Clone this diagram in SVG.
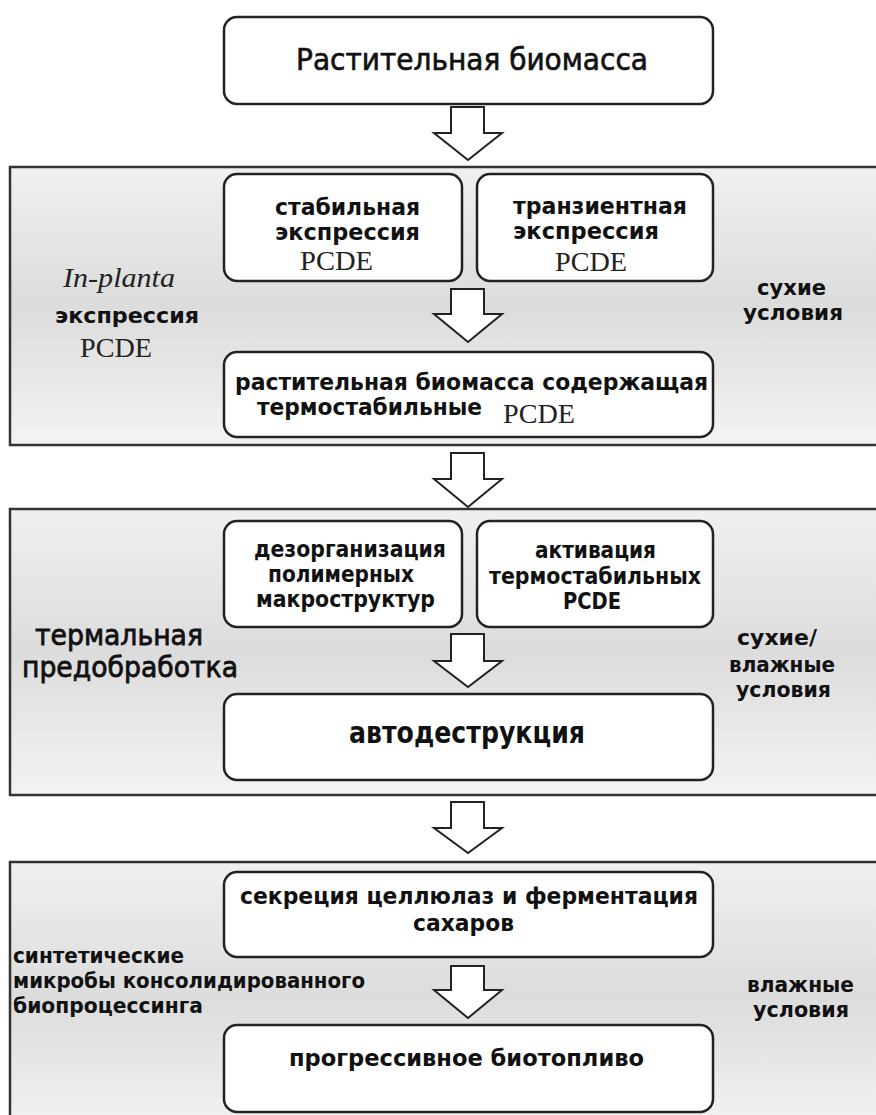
<svg xmlns="http://www.w3.org/2000/svg" width="876" height="1115" viewBox="0 0 876 1115">
<style>
.panel{stroke:#333;stroke-width:2.5;fill:url(#pg)}
.box{fill:#fff;stroke:#222;stroke-width:2.5}
.arr{fill:#fff;stroke:#222;stroke-width:2;stroke-linejoin:miter}
.bt{font-family:"DejaVu Sans Condensed","DejaVu Sans",sans-serif;font-weight:bold;font-size:23px;fill:#111}
.big{font-size:30px}
.med{font-weight:normal;stroke:#111;stroke-width:0.6}
.lbl{font-family:"DejaVu Sans","Liberation Sans",sans-serif;font-weight:bold;font-size:22px;fill:#111}
.lg{font-family:"DejaVu Sans","Liberation Sans",sans-serif;font-size:28px;fill:#111;stroke:#111;stroke-width:0.8}
.sf{font-family:"Liberation Serif","DejaVu Serif",serif;font-size:27px;fill:#222}
</style>
<defs>
<linearGradient id="pg" x1="0" y1="0" x2="0" y2="1">
<stop offset="0" stop-color="#f0f0f0"/>
<stop offset="0.5" stop-color="#dcdcdc"/>
<stop offset="1" stop-color="#f3f3f3"/>
</linearGradient>
</defs>

<g id="panel1"><rect class="panel" x="10" y="167" width="880" height="278"/></g>
<g id="panel2"><rect class="panel" x="10" y="509" width="880" height="286"/></g>
<g id="panel3"><rect class="panel" x="10" y="862" width="880" height="270"/></g>

<g id="connectors">
<polygon class="arr" points="451,107 484,107 484,133 502,133 468,160 434,133 451,133"/>
<polygon class="arr" points="451,289 484,289 484,314 502,314 468,342 434,314 451,314"/>
<polygon class="arr" points="451,453 484,453 484,479 502,479 468,507 434,479 451,479"/>
<polygon class="arr" points="451,634 484,634 484,661 502,661 468,687 434,661 451,661"/>
<polygon class="arr" points="451,802 484,802 484,828 502,828 468,853 434,828 451,828"/>
<polygon class="arr" points="451,966 484,966 484,990 502,990 468,1018 434,990 451,990"/>
</g>

<g id="n-biomass">
<rect class="box" x="224" y="17" width="489" height="87" rx="13"/>
<text class="bt big med" x="296" y="70" textLength="352" lengthAdjust="spacingAndGlyphs">Растительная биомасса</text>
</g>

<g id="n-stable">
<rect class="box" x="224" y="174" width="238" height="107" rx="13"/>
<text class="bt" x="275" y="215" textLength="145" lengthAdjust="spacingAndGlyphs">стабильная</text>
<text class="bt" x="275" y="240" textLength="145" lengthAdjust="spacingAndGlyphs">экспрессия</text>
<text class="sf" x="300" y="270" textLength="73" lengthAdjust="spacingAndGlyphs">PCDE</text>
</g>

<g id="n-transient">
<rect class="box" x="477" y="174" width="236" height="107" rx="13"/>
<text class="bt" x="513" y="214" textLength="174" lengthAdjust="spacingAndGlyphs">транзиентная</text>
<text class="bt" x="513" y="239" textLength="146" lengthAdjust="spacingAndGlyphs">экспрессия</text>
<text class="sf" x="555" y="271" textLength="72" lengthAdjust="spacingAndGlyphs">PCDE</text>
</g>

<g id="n-biomass-pcde">
<rect class="box" x="224" y="352" width="489" height="85" rx="13"/>
<text class="bt" x="235" y="390" textLength="473" lengthAdjust="spacingAndGlyphs">растительная биомасса содержащая</text>
<text class="bt" x="257" y="415" textLength="225" lengthAdjust="spacingAndGlyphs">термостабильные</text>
<text class="sf" x="503" y="423" textLength="72" lengthAdjust="spacingAndGlyphs">PCDE</text>
</g>

<g id="l-inplanta">
<text class="sf" x="63" y="287" font-style="italic" textLength="112" lengthAdjust="spacingAndGlyphs">In-planta</text>
<text class="lbl" x="55" y="323" textLength="144" lengthAdjust="spacingAndGlyphs">экспрессия</text>
<text class="sf" x="80" y="357" textLength="72" lengthAdjust="spacingAndGlyphs">PCDE</text>
</g>
<g id="r-dry">
<text class="lbl" x="757" y="295" textLength="69" lengthAdjust="spacingAndGlyphs">сухие</text>
<text class="lbl" x="743" y="320" textLength="100" lengthAdjust="spacingAndGlyphs">условия</text>
</g>

<g id="n-disorg">
<rect class="box" x="224" y="521" width="238" height="106" rx="13"/>
<text class="bt" x="254" y="557" textLength="192" lengthAdjust="spacingAndGlyphs">дезорганизация</text>
<text class="bt" x="268" y="582" textLength="146" lengthAdjust="spacingAndGlyphs">полимерных</text>
<text class="bt" x="256" y="607" textLength="179" lengthAdjust="spacingAndGlyphs">макроструктур</text>
</g>

<g id="n-activ">
<rect class="box" x="477" y="521" width="236" height="106" rx="13"/>
<text class="bt" x="535" y="558" textLength="121" lengthAdjust="spacingAndGlyphs">активация</text>
<text class="bt" x="489" y="584" textLength="212" lengthAdjust="spacingAndGlyphs">термостабильных</text>
<text class="bt" x="563" y="609" textLength="58" lengthAdjust="spacingAndGlyphs">PCDE</text>
</g>

<g id="n-autodestr">
<rect class="box" x="224" y="694" width="489" height="86" rx="13"/>
<text class="bt big" x="349" y="743" textLength="236" lengthAdjust="spacingAndGlyphs">автодеструкция</text>
</g>

<g id="l-thermal">
<text class="lg" x="35" y="645" textLength="168" lengthAdjust="spacingAndGlyphs">термальная</text>
<text class="lg" x="22" y="677" textLength="216" lengthAdjust="spacingAndGlyphs">предобработка</text>
</g>
<g id="r-drywet">
<text class="lbl" x="737" y="645" textLength="80" lengthAdjust="spacingAndGlyphs">сухие/</text>
<text class="lbl" x="729" y="672" textLength="106" lengthAdjust="spacingAndGlyphs">влажные</text>
<text class="lbl" x="736" y="697" textLength="95" lengthAdjust="spacingAndGlyphs">условия</text>
</g>

<g id="n-secretion">
<rect class="box" x="224" y="872" width="489" height="85" rx="13"/>
<text class="bt" x="240" y="904" textLength="458" lengthAdjust="spacingAndGlyphs">секреция целлюлаз и ферментация</text>
<text class="bt" x="413" y="931" textLength="101" lengthAdjust="spacingAndGlyphs">сахаров</text>
</g>

<g id="n-biofuel">
<rect class="box" x="224" y="1025" width="489" height="87" rx="13"/>
<text class="bt" x="289" y="1066" font-size="26" textLength="355" lengthAdjust="spacingAndGlyphs">прогрессивное биотопливо</text>
</g>

<g id="l-microbes">
<text class="lbl" x="13" y="963" textLength="171" lengthAdjust="spacingAndGlyphs">синтетические</text>
<text class="lbl" x="13" y="988" textLength="352" lengthAdjust="spacingAndGlyphs">микробы консолидированного</text>
<text class="lbl" x="13" y="1013" textLength="190" lengthAdjust="spacingAndGlyphs">биопроцессинга</text>
</g>
<g id="r-wet">
<text class="lbl" x="747" y="992" textLength="107" lengthAdjust="spacingAndGlyphs">влажные</text>
<text class="lbl" x="753" y="1017" textLength="96" lengthAdjust="spacingAndGlyphs">условия</text>
</g>
</svg>
